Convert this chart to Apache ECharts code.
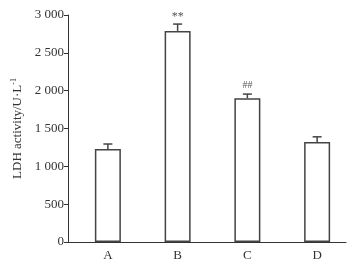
<!DOCTYPE html>
<html>
<head>
<meta charset="utf-8">
<script src="https://cdn.jsdelivr.net/npm/echarts@6/dist/echarts.min.js"></script>
<style>
html, body { margin: 0; padding: 0; background: #fff; }
#chart { width: 354px; height: 264px; }
</style>
</head>
<body>
<div id="chart"></div>
<script>
var groups = ['A', 'B', 'C', 'D'];
var means = [1230, 2790, 1900, 1320];
var errors = [65, 90, 55, 70];
var marks = ['', '**', '##', ''];
var yTicks = [0, 500, 1000, 1500, 2000, 2500, 3000];

var serif = 'Liberation Serif, Times New Roman, serif';
var ink = '#333';

var chart = echarts.init(document.getElementById('chart'));

function fmt(v) {
    if (v < 1000) return String(v);
    var r = String(v % 1000);
    while (r.length < 3) r = '0' + r;
    return Math.floor(v / 1000) + ' ' + r;
}

var errData = groups.map(function (g, i) { return [i, means[i], errors[i], marks[i]]; });

var option = {
    backgroundColor: '#fff',
    animation: false,
    grid: [
        {left: 68, right: 8, top: 15, bottom: 22},   // frame + y axis
        {left: 73, right: 2, top: 15, bottom: 22}    // bars
    ],
    xAxis: [
        {
            gridIndex: 0, type: 'value', min: 0, max: 1,
            axisLine: {lineStyle: {color: ink, width: 1}},
            axisTick: {show: false}, axisLabel: {show: false}, splitLine: {show: false}
        },
        {
            gridIndex: 1, type: 'category', data: groups,
            axisLine: {show: false}, axisTick: {show: false},
            axisLabel: {color: ink, fontFamily: serif, fontSize: 13, margin: 7}
        }
    ],
    yAxis: [
        {
            gridIndex: 0, type: 'value', min: yTicks[0], max: yTicks[yTicks.length - 1], interval: 500,
            axisLine: {show: true, lineStyle: {color: ink, width: 1}},
            axisTick: {show: true, length: 4, lineStyle: {color: ink}},
            splitLine: {show: false},
            axisLabel: {color: ink, fontFamily: serif, fontSize: 13, margin: 4, formatter: fmt},
            name: '{a|LDH activity/U·L}{b|-1}',
            nameLocation: 'middle',
            nameGap: 41,
            nameRotate: 90,
            nameTextStyle: {
                rich: {
                    a: {color: ink, fontFamily: serif, fontSize: 13},
                    b: {color: ink, fontFamily: serif, fontSize: 8, verticalAlign: 'top', padding: [0, 0, 6, 0]}
                }
            }
        },
        {
            gridIndex: 1, type: 'value', min: 0, max: 3000, show: false
        }
    ],
    series: [
        {
            type: 'bar', xAxisIndex: 1, yAxisIndex: 1,
            data: means, barWidth: 26,
            itemStyle: {color: '#fff', borderColor: '#444', borderWidth: 1.5}
        },
        {
            type: 'custom', xAxisIndex: 1, yAxisIndex: 1,
            data: errData,
            z: 3,
            renderItem: function (params, api) {
                var base = api.coord([api.value(0), api.value(1)]);
                var top = api.coord([api.value(0), api.value(1) + api.value(2)]);
                var half = 4.5;
                var st = {stroke: '#444', lineWidth: 1.5};
                var label = marks[params.dataIndex];
                var kids = [
                    {type: 'line', shape: {x1: base[0], y1: base[1], x2: top[0], y2: top[1]}, style: st},
                    {type: 'line', shape: {x1: top[0] - half, y1: top[1], x2: top[0] + half, y2: top[1]}, style: st}
                ];
                if (label) {
                    kids.push({
                        type: 'text',
                        style: {
                            text: label, x: top[0], y: top[1] - (label === '**' ? 1 : 4),
                            align: 'center', verticalAlign: 'bottom',
                            fill: '#555', font: (label === '**' ? '12px ' : '10px ') + serif
                        }
                    });
                }
                return {type: 'group', children: kids};
            }
        }
    ]
};

chart.setOption(option);

window.addEventListener('resize', function () {
    chart.resize();
});
</script>
</body>
</html>
